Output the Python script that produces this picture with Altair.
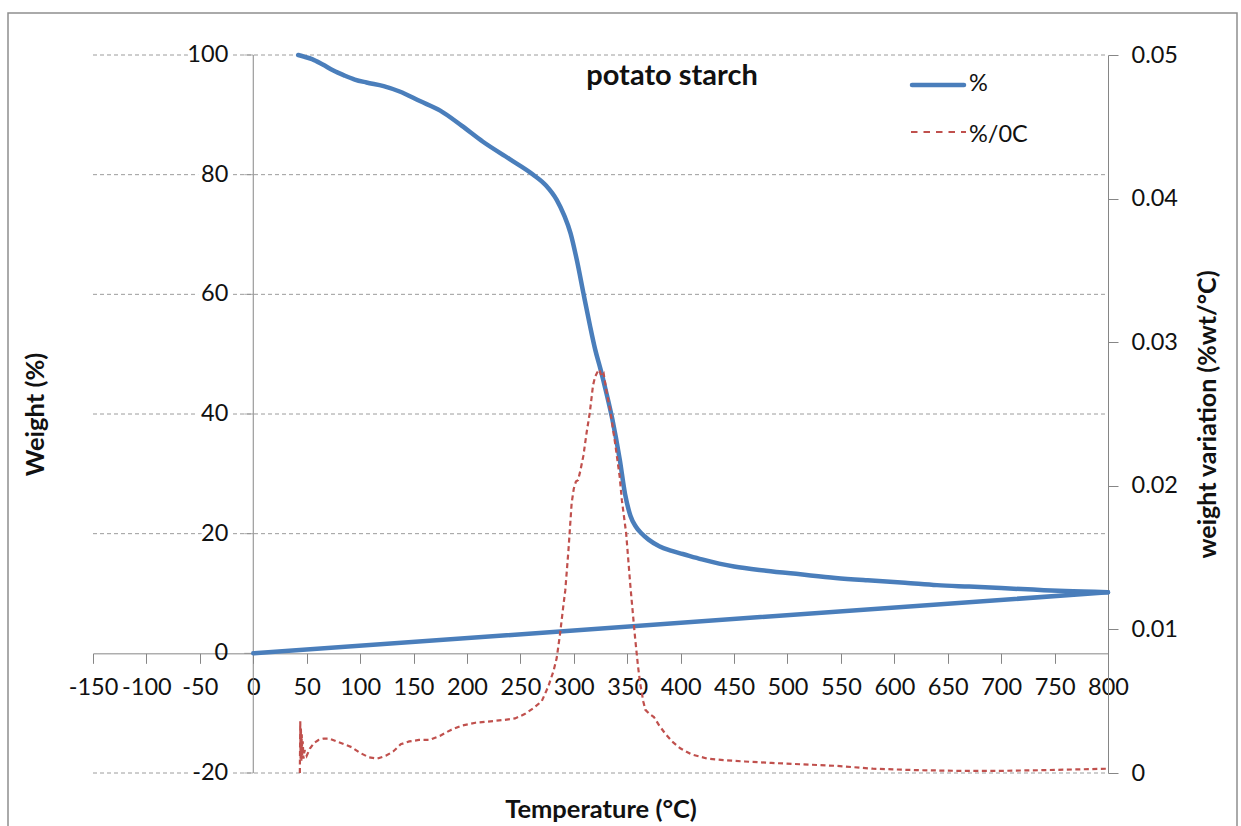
import altair as alt
import pandas as pd

# ---- TGA curve: weight (%) vs temperature (°C); last point closes back to the origin
tga_temp = [42, 48, 55, 65, 75, 85, 95, 106, 122, 137, 156, 175, 195, 215, 240,
            262, 274, 284, 291, 297, 303, 309, 315, 320, 325, 330, 336, 343, 348,
            353, 358, 363, 370, 380, 390, 402, 420, 450, 480, 512, 545, 575, 610,
            640, 670, 700, 730, 760, 800, 0]
tga_weight = [100, 99.7, 99.3, 98.4, 97.4, 96.6, 95.9, 95.4, 94.8, 93.9, 92.3, 90.7,
              88.2, 85.5, 82.6, 80.0, 78.2, 75.8, 73.2, 70.2, 65.6, 60.2, 54.9, 50.8,
              47.5, 43.9, 39.2, 32.4, 26.6, 23.0, 21.2, 20.1, 19.0, 17.9, 17.2, 16.6,
              15.7, 14.5, 13.8, 13.2, 12.6, 12.2, 11.8, 11.4, 11.15, 10.9, 10.65, 10.4,
              10.2, 0]

# ---- DTG curve: weight variation (%wt/°C) vs temperature (°C)
dtg_temp = [43.6, 44.0, 44.3, 44.6, 45.0, 45.4, 45.8, 46.3, 47, 48, 50, 53, 57, 61, 66,
            71, 78, 85, 92, 100, 108, 116, 124, 131, 138, 146, 155, 165, 175, 185, 195,
            208, 222, 235, 245, 254, 262, 270, 276, 281, 284, 287, 290, 292, 295, 298,
            300, 302, 304, 306, 309, 312, 315, 318, 320, 322, 324, 326, 328, 331, 334,
            339, 343, 345, 349, 353, 357, 360, 362, 365, 367, 371, 375, 380, 385, 392,
            400, 410, 425, 440, 460, 485, 515, 545, 580, 620, 660, 700, 740, 770, 800]
dtg_value = [0.0, 0.0036, 0.0010, 0.0031, 0.0008, 0.0027, 0.0012, 0.0022, 0.0010, 0.0016,
             0.0012, 0.0017, 0.0021, 0.0023, 0.0024, 0.0024, 0.0022, 0.0020, 0.0018,
             0.0014, 0.0011, 0.0010, 0.0012, 0.0015, 0.0020, 0.0022, 0.0023, 0.0023,
             0.0026, 0.0030, 0.0033, 0.0035, 0.0036, 0.0037, 0.0038, 0.0041, 0.0045,
             0.0050, 0.0060, 0.0071, 0.0080, 0.0096, 0.0115, 0.0127, 0.0155, 0.0188,
             0.0198, 0.0203, 0.0204, 0.0210, 0.0221, 0.0237, 0.0251, 0.0270, 0.0276,
             0.0279, 0.0281, 0.0276, 0.0278, 0.0264, 0.0253, 0.0228, 0.0206, 0.0190,
             0.0167, 0.0130, 0.0097, 0.0075, 0.0063, 0.0050, 0.0044, 0.0041, 0.0039,
             0.0033, 0.0028, 0.0022, 0.0017, 0.0013, 0.0010, 0.0009, 0.0008, 0.0007,
             0.0006, 0.0005, 0.0003, 0.0002, 0.00015, 0.00015, 0.0002, 0.00025, 0.0003]

# ---- axis ticks / labels
x_ticks = list(range(-150, 801, 50))
y_left_ticks = [-20, 0, 20, 40, 60, 80, 100]
y_grid = [-20, 20, 40, 60, 80, 100]
y_right_ticks = [0, 0.01, 0.02, 0.03, 0.04, 0.05]

series_names = ["%", "%/0C"]
chart_title = "potato starch"

FONT = "Lato"
TICK_FS = 23.5
TITLE_FS = 25.5
AXIS_GREY = "#868686"
TEXT = "#111111"
BLUE = "#4a7ebb"
RED = "#c0504d"

W, H = 1015, 718

xs = alt.Scale(domain=[-150, 800], nice=False, zero=False)
ys = alt.Scale(domain=[-20, 100], nice=False, zero=False)
yr = alt.Scale(domain=[0, 0.05], nice=False, zero=False)

x_axis = alt.Axis(
    values=x_ticks, offset=-H * 20 / 120, grid=False, zindex=0,
    domainColor=AXIS_GREY, domainWidth=1, tickColor=AXIS_GREY, tickSize=10,
    labelFont=FONT, labelFontSize=TICK_FS, labelColor=TEXT, labelPadding=12,
    labelFlush=False, labelOverlap=False,
    labelExpr="replace(datum.label, '\u2212', '-')",
    title="Temperature (°C)", titleFont=FONT, titleFontSize=TITLE_FS,
    titleFontWeight="bold", titleColor=TEXT,
    titleX=W / 2, titleY=156, titleBaseline="middle", titleAlign="center",
)
y_axis = alt.Axis(
    orient="left", domain=False, ticks=False, labels=False, grid=False,
    title="Weight (%)", titleFont=FONT, titleFontSize=TITLE_FS, titleFontWeight="bold",
    titleColor=TEXT, titleAngle=270, titleX=-58, titleY=H / 2,
    titleBaseline="middle", titleAlign="center",
)
y_right_axis = alt.Axis(
    orient="right", values=y_right_ticks, format=".2~f", grid=False,
    domainColor=AXIS_GREY, tickColor=AXIS_GREY, tickSize=10,
    labelFont=FONT, labelFontSize=TICK_FS, labelColor=TEXT, labelPadding=13,
    labelFlush=False, labelOverlap=False,
    title="weight variation (%wt/°C)", titleFont=FONT, titleFontSize=TITLE_FS - 0.5,
    titleFontWeight="bold", titleColor=TEXT, titleAngle=270,
    titleX=99, titleY=H / 2, titleBaseline="middle", titleAlign="center",
)


def X(field=None, datum=None):
    if datum is not None:
        return alt.X(datum=datum, scale=xs, axis=x_axis)
    return alt.X(field, type="quantitative", scale=xs, axis=x_axis)


def Y(field=None, datum=None):
    if datum is not None:
        return alt.Y(datum=datum, scale=ys, axis=y_axis)
    return alt.Y(field, type="quantitative", scale=ys, axis=y_axis)


one = pd.DataFrame({"k": [0]})
# measured heating curve, and the straight closing segment back to the origin
tga_curve = pd.DataFrame({"T": tga_temp[:-1], "W": tga_weight[:-1]})
tga_close = pd.DataFrame({"T": tga_temp[-2:], "W": tga_weight[-2:]})
dtg = pd.DataFrame({"T": dtg_temp, "D": dtg_value, "i": range(len(dtg_temp))})
grid_df = pd.DataFrame({"v": y_grid})
ylab_df = pd.DataFrame({"v": y_left_ticks, "s": [str(v) for v in y_left_ticks]})
halo_df = ylab_df[ylab_df["v"] != 0]

# outer chart frame
frame = alt.Chart(one).mark_rect(fillOpacity=0, stroke="#8e8e8e", strokeWidth=1.5).encode(
    x=alt.value(-85), x2=alt.value(1144), y=alt.value(-42), y2=alt.value(820)
)

grid = alt.Chart(grid_df).mark_rule(color="#9c9c9c", strokeWidth=1, strokeDash=[4, 3]).encode(
    x=X(datum=-150), x2=alt.X2(datum=800), y=Y("v")
)

halo = alt.Chart(halo_df).mark_text(
    align="right", baseline="middle", dx=-25, font=FONT, fontSize=TICK_FS,
    color="white", stroke="white", strokeWidth=9,
).encode(x=X(datum=0), y=Y("v"), text="s:N")

ylabels = alt.Chart(ylab_df).mark_text(
    align="right", baseline="middle", dx=-25, font=FONT, fontSize=TICK_FS, color=TEXT
).encode(x=X(datum=0), y=Y("v"), text="s:N")

y_line = alt.Chart(one).mark_rule(color=AXIS_GREY, strokeWidth=1).encode(
    x=X(datum=0), y=Y(datum=-20), y2=alt.Y2(datum=100)
)

y_ticks = alt.Chart(pd.DataFrame({"v": y_left_ticks})).mark_tick(
    orient="horizontal", size=9, thickness=1, color=AXIS_GREY, xOffset=-4.5
).encode(x=X(datum=0), y=Y("v"))

tga_line = alt.Chart(tga_curve).mark_line(
    color=BLUE, strokeWidth=4.5, strokeJoin="round", strokeCap="round",
    interpolate="monotone",
).encode(x=X("T"), y=Y("W"))

tga_return = alt.Chart(tga_close).mark_line(
    color=BLUE, strokeWidth=4.5, strokeCap="round"
).encode(x=X("T"), y=Y("W"))

# legend and title
leg_blue = alt.Chart(one).mark_rule(color=BLUE, strokeWidth=4.5, strokeCap="round").encode(
    x=alt.value(819), x2=alt.value(871), y=alt.value(30)
)
leg_red = alt.Chart(one).mark_rule(color=RED, strokeWidth=2.2, strokeDash=[6.5, 6]).encode(
    x=alt.value(818), x2=alt.value(873), y=alt.value(77)
)
leg_text = alt.Chart(pd.DataFrame({"s": series_names, "yy": [29, 80]})).mark_text(
    align="left", baseline="middle", font=FONT, fontSize=TICK_FS, color=TEXT
).encode(x=alt.value(876), y=alt.Y("yy:Q", scale=None), text="s:N")
title_mark = alt.Chart(one).mark_text(
    align="center", baseline="middle", font=FONT, fontSize=29, fontWeight="bold", color=TEXT
).encode(x=alt.value(579), y=alt.value(21), text=alt.value(chart_title))

left = alt.layer(frame, grid, halo, ylabels, y_line, y_ticks, tga_line, tga_return,
                 leg_blue, leg_red, leg_text, title_mark)

dtg_line = alt.Chart(dtg).mark_line(
    color=RED, strokeWidth=2.2, strokeDash=[5, 3.5]
).encode(
    x=X("T"),
    y=alt.Y("D", type="quantitative", scale=yr, axis=y_right_axis),
    order="i:Q",
)

chart = alt.layer(left, dtg_line).resolve_scale(y="independent").properties(
    width=W, height=H,
    autosize=alt.AutoSizeParams(type="none"),
    padding={"left": 93, "top": 55, "right": 133, "bottom": 53},
).configure(background="white").configure_view(stroke=None)

chart.save("out.html", embed_options={"renderer": "svg", "actions": False})
